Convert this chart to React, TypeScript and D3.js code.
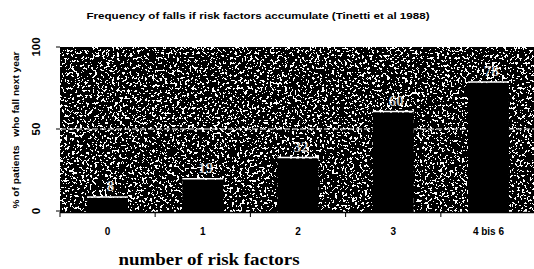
import React from 'react';
import * as d3 from 'd3';

const categories = ['0', '1', '2', '3', '4 bis 6'];
const values = [8, 19, 32, 60, 78];
const yTicks = [0, 50, 100];

const width = 534;
const height = 269;
const plot = { left: 60, right: 536, top: 47, bottom: 211 };

const App = () => {
  const x = d3
    .scaleBand<string>()
    .domain(categories)
    .range([plot.left, plot.right])
    .paddingInner(0.57)
    .paddingOuter(0.284);

  const y = d3.scaleLinear().domain([0, 100]).range([plot.bottom, plot.top]);

  const step = x.step();
  // tick marks sit between the categories
  const boundaries = [plot.left, ...categories.slice(0, -1).map(c => (x(c) as number) + x.bandwidth() + (step * x.paddingInner()) / 2)];

  const sans = '"Liberation Sans", Arial, sans-serif';
  const serif = '"Liberation Serif", "DejaVu Serif", serif';

  return (
    <svg width={width} height={height} style={{ position: 'absolute', left: 0, top: 0, background: '#fff' }}>
      <defs>
        <filter id="speckle" x="0" y="0" width="100%" height="100%">
          <feTurbulence type="fractalNoise" baseFrequency="0.4" numOctaves="3" seed="7" result="t" />
          <feColorMatrix in="t" type="matrix" values="0 0 0 0 1  0 0 0 0 1  0 0 0 0 1  1 0 0 0 0" />
          <feComponentTransfer>
            <feFuncA type="discrete" tableValues="0 0 0 0 0 0 1 1 1 1" />
          </feComponentTransfer>
        </filter>
        <clipPath id="plotClip">
          <rect x={plot.left} y={plot.top} width={width - plot.left} height={plot.bottom - plot.top + 2} />
        </clipPath>
      </defs>

      <text x={258} y={19} textAnchor="middle" fontFamily={sans} fontWeight="bold" fontSize={9.5}
        textLength={343} lengthAdjust="spacingAndGlyphs">
        Frequency of falls if risk factors accumulate (Tinetti et al 1988)
      </text>

      {/* plot background: dark scanned texture */}
      <g clipPath="url(#plotClip)">
        <rect x={plot.left} y={plot.top} width={width - plot.left} height={plot.bottom - plot.top + 2} fill="#000" />
        <rect x={plot.left} y={plot.top} width={width - plot.left} height={plot.bottom - plot.top + 2} fill="#fff" filter="url(#speckle)" />

        <line x1={plot.left} x2={width} y1={y(50)} y2={y(50)} stroke="#fff" strokeWidth={1.2} strokeDasharray="6 2" />

        {categories.map((c, i) => {
          const bx = x(c) as number;
          return (
            <g key={c}>
              <rect x={bx} y={y(values[i])} width={x.bandwidth()} height={plot.bottom - y(values[i]) + 1} fill="#000" />
              <line x1={bx} x2={bx + x.bandwidth()} y1={y(values[i]) - 1} y2={y(values[i]) - 1} stroke="#fff" strokeWidth={1.5} />
              <text x={bx + x.bandwidth() / 2 + 3} y={y(values[i]) - 7} textAnchor="middle" fontFamily={serif}
                fontWeight="bold" fontSize={15} fill="#fff" fillOpacity={0.8}>
                {values[i]}
              </text>
            </g>
          );
        })}
      </g>

      <line x1={plot.left} x2={width} y1={plot.bottom + 1.5} y2={plot.bottom + 1.5} stroke="#000" strokeWidth={1.5} />
      {boundaries.map((bx, i) => (
        <line key={i} x1={bx} x2={bx} y1={plot.bottom + 1} y2={plot.bottom + 6} stroke="#000" strokeWidth={1} />
      ))}

      {yTicks.map(t => (
        <g key={t}>
          <line x1={plot.left - 4} x2={plot.left} y1={y(t)} y2={y(t)} stroke="#000" strokeWidth={1} />
          <text transform={`translate(40, ${y(t)}) rotate(-90)`} textAnchor="middle" fontFamily={sans}
            fontWeight="bold" fontSize={11.5}>
            {t}
          </text>
        </g>
      ))}

      <text transform={`translate(19, ${130}) rotate(-90)`} textAnchor="middle" fontFamily={sans} fontWeight="bold"
        fontSize={8.5} textLength={157} lengthAdjust="spacingAndGlyphs">
        % of patients{'\u00a0\u00a0\u00a0'}who fall next year
      </text>

      {categories.map(c => (
        <text key={c} x={(x(c) as number) + x.bandwidth() / 2} y={235} textAnchor="middle" fontFamily={sans}
          fontWeight="bold" fontSize={10}>
          {c}
        </text>
      ))}

      <text x={209} y={265} textAnchor="middle" fontFamily={serif} fontWeight="bold" fontSize={16}
        textLength={181} lengthAdjust="spacingAndGlyphs">
        number of risk factors
      </text>
    </svg>
  );
};

export default App;
